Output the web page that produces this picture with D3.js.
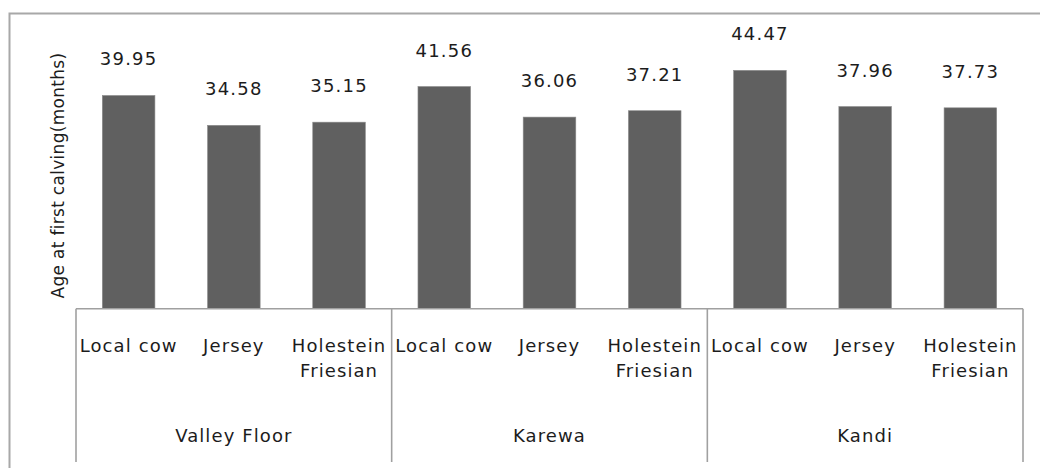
<!DOCTYPE html>
<html>
<head>
<meta charset="utf-8">
<script src="https://cdn.jsdelivr.net/npm/d3@7"></script>
<style>
  html, body { margin: 0; padding: 0; background: #fff; }
  svg { display: block; }
  text { font-family: "DejaVu Sans", sans-serif; fill: #1c1c1c; }
</style>
</head>
<body>
<svg id="chart" width="1040" height="468"></svg>
<script>
// ---- data ----
const groups = ["Valley Floor", "Karewa", "Kandi"];
const breeds = ["Local cow", "Jersey", "Holestein Friesian"];
const valleyFloor = [39.95, 34.58, 35.15];
const karewa = [41.56, 36.06, 37.21];
const kandi = [44.47, 37.96, 37.73];
const yTitle = "Age at first calving(months)";
const yDomain = [1.6, 50];

const seriesByGroup = [valleyFloor, karewa, kandi];
const rows = [];
groups.forEach((g, gi) => {
  breeds.forEach((b, bi) => {
    rows.push({ key: g + "|" + b, group: g, breed: b, value: seriesByGroup[gi][bi] });
  });
});

// ---- layout ----
const svg = d3.select("#chart");
const left = 76, right = 1023, baseY = 308.7, topY = 39.6, bottomY = 462;

const x = d3.scaleBand().domain(rows.map(d => d.key)).range([left, right])
  .paddingInner(0.5).paddingOuter(0.25);
const xg = d3.scaleBand().domain(groups).range([left, right]).padding(0);
const y = d3.scaleLinear().domain(yDomain).range([baseY, topY]);

// outer frame
svg.append("rect")
  .attr("x", 9.5).attr("y", 13.5).attr("width", 1100).attr("height", 500)
  .attr("fill", "none").attr("stroke", "#a8a8a8").attr("stroke-width", 2);

// bars
svg.append("g").selectAll("rect").data(rows).join("rect")
  .attr("x", d => x(d.key))
  .attr("y", d => y(d.value))
  .attr("width", x.bandwidth())
  .attr("height", d => y(yDomain[0]) - y(d.value))
  .attr("fill", "#606060")
  .attr("stroke", "#8c8c8c").attr("stroke-width", 0.6);

// value labels
svg.append("g").selectAll("text").data(rows).join("text")
  .attr("x", d => x(d.key) + x.bandwidth() / 2)
  .attr("y", d => y(d.value) - 30)
  .attr("text-anchor", "middle")
  .style("font-size", "18px")
  .style("letter-spacing", "1.2px")
  .text(d => d.value.toFixed(2));

// axis lines
const axisColor = "#a0a0a0";
svg.append("line")
  .attr("x1", left).attr("x2", right).attr("y1", baseY).attr("y2", baseY)
  .attr("stroke", axisColor).attr("stroke-width", 1.6);
const bounds = [left].concat(groups.map(g => xg(g) + xg.bandwidth()));
svg.append("g").selectAll("line").data(bounds).join("line")
  .attr("x1", d => d).attr("x2", d => d)
  .attr("y1", baseY).attr("y2", bottomY)
  .attr("stroke", axisColor).attr("stroke-width", 1.6);

// category labels
const cat = svg.append("g").selectAll("text").data(rows).join("text")
  .attr("text-anchor", "middle")
  .style("font-size", "18px")
  .style("letter-spacing", "1.1px");
cat.each(function(d) {
  const t = d3.select(this);
  const cx = x(d.key) + x.bandwidth() / 2;
  const words = d.breed === "Holestein Friesian" ? ["Holestein", "Friesian"] : [d.breed];
  words.forEach((w, i) => {
    t.append("tspan").attr("x", cx).attr("y", 351.7 + i * 24.8).text(w);
  });
});

// group labels
svg.append("g").selectAll("text").data(groups).join("text")
  .attr("x", d => xg(d) + xg.bandwidth() / 2)
  .attr("y", 441.5)
  .attr("text-anchor", "middle")
  .style("font-size", "18px")
  .style("letter-spacing", "1.1px")
  .text(d => d);

// y title
svg.append("text")
  .attr("transform", "translate(64,175.5) rotate(-90)")
  .attr("text-anchor", "middle")
  .style("font-size", "17px")
  .style("letter-spacing", "0.3px")
  .text(yTitle);
</script>
</body>
</html>
